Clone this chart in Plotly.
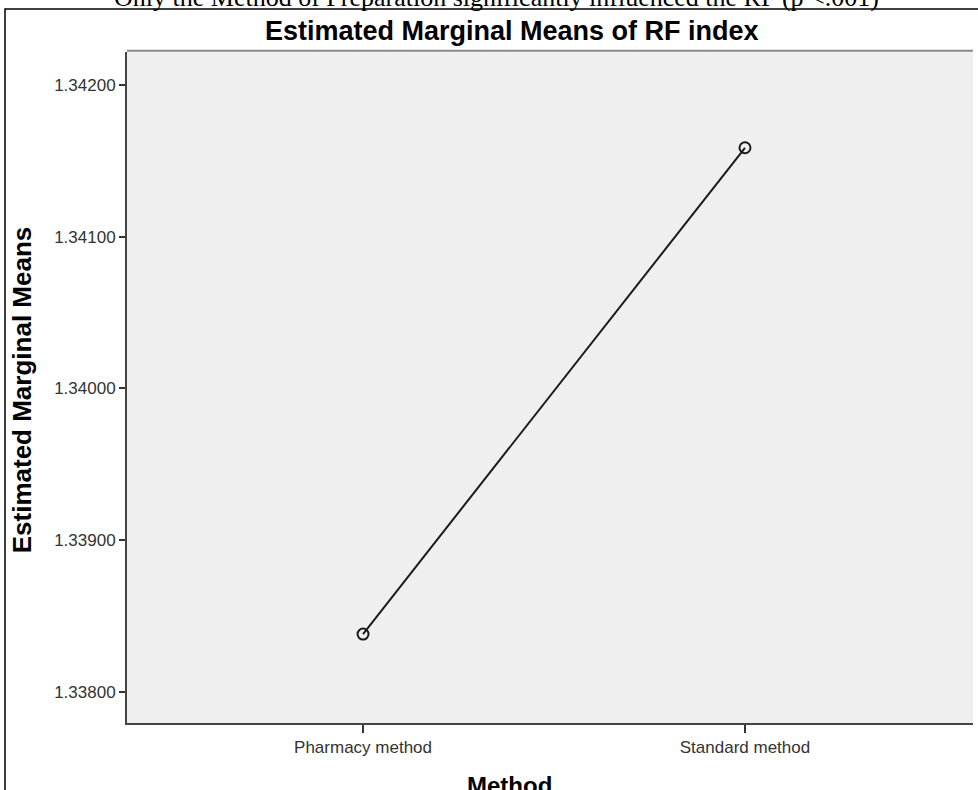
import plotly.graph_objects as go

methods = ["Pharmacy method", "Standard method"]
means = [1.338382, 1.341586]
y_ticks = [1.338, 1.339, 1.340, 1.341, 1.342]
y_tick_labels = ["1.33800", "1.33900", "1.34000", "1.34100", "1.34200"]

fig = go.Figure()
fig.add_trace(go.Scatter(
    x=methods, y=means, mode="lines+markers",
    line=dict(color="#1a1a1a", width=2),
    marker=dict(symbol="circle-open", size=11, color="#1a1a1a", line=dict(width=2)),
    showlegend=False, hoverinfo="skip"))

font = "Liberation Sans, Arial, sans-serif"
fig.update_layout(
    width=978, height=790,
    margin=dict(l=127, r=5, t=52, b=67),
    paper_bgcolor="white", plot_bgcolor="#efefef",
    font=dict(family=font, color="#333333", size=17),
    xaxis=dict(type="category", range=[-0.618, 1.597], showgrid=False, zeroline=False,
               showline=True, linecolor="#444444", linewidth=2,
               ticks="outside", ticklen=8, tickwidth=2, tickcolor="#333333",
               tickfont=dict(size=17, color="#333333")),
    yaxis=dict(range=[1.337796, 1.342217], tickvals=y_ticks, ticktext=y_tick_labels,
               showgrid=False, zeroline=False, showline=True, linecolor="#444444", linewidth=2,
               ticks="outside", ticklen=6, tickwidth=2, tickcolor="#333333",
               tickfont=dict(size=17, color="#333333")),
)

# outer frame
fig.add_shape(type="rect", xref="paper", yref="paper", x0=-0.1442, x1=1.02, y0=-0.2, y1=1.064,
              line=dict(color="black", width=1.5), fillcolor="rgba(0,0,0,0)", layer="below")
# top border of plot area
fig.add_shape(type="line", xref="paper", yref="paper", x0=0, x1=1, y0=1.002, y1=1.002,
              line=dict(color="#888888", width=2))

fig.add_annotation(text="Estimated Marginal Means of RF index", xref="paper", yref="paper",
                   x=0.455, y=1.0313, showarrow=False, xanchor="center", yanchor="middle",
                   font=dict(family=font, size=27, color="black", weight="bold"))
fig.add_annotation(text="Only the Method of Preparation significantly influenced the RF (p <.001)",
                   xref="paper", yref="paper", x=0.437, y=1.0805, showarrow=False,
                   xanchor="center", yanchor="middle",
                   font=dict(family="Liberation Serif, Times New Roman, serif", size=26, color="black"))
fig.add_annotation(text="Estimated Marginal Means", xref="paper", yref="paper",
                   x=-0.124, y=0.496, showarrow=False, textangle=-90,
                   xanchor="center", yanchor="middle",
                   font=dict(family=font, size=26, color="black", weight="bold"))
fig.add_annotation(text="Method", xref="paper", yref="paper",
                   x=0.4527, y=-0.0924, showarrow=False, xanchor="center", yanchor="middle",
                   font=dict(family=font, size=24, color="black", weight="bold"))

fig.write_html("out.html", config={"displayModeBar": False},
               post_script="document.body.style.margin='0';")
